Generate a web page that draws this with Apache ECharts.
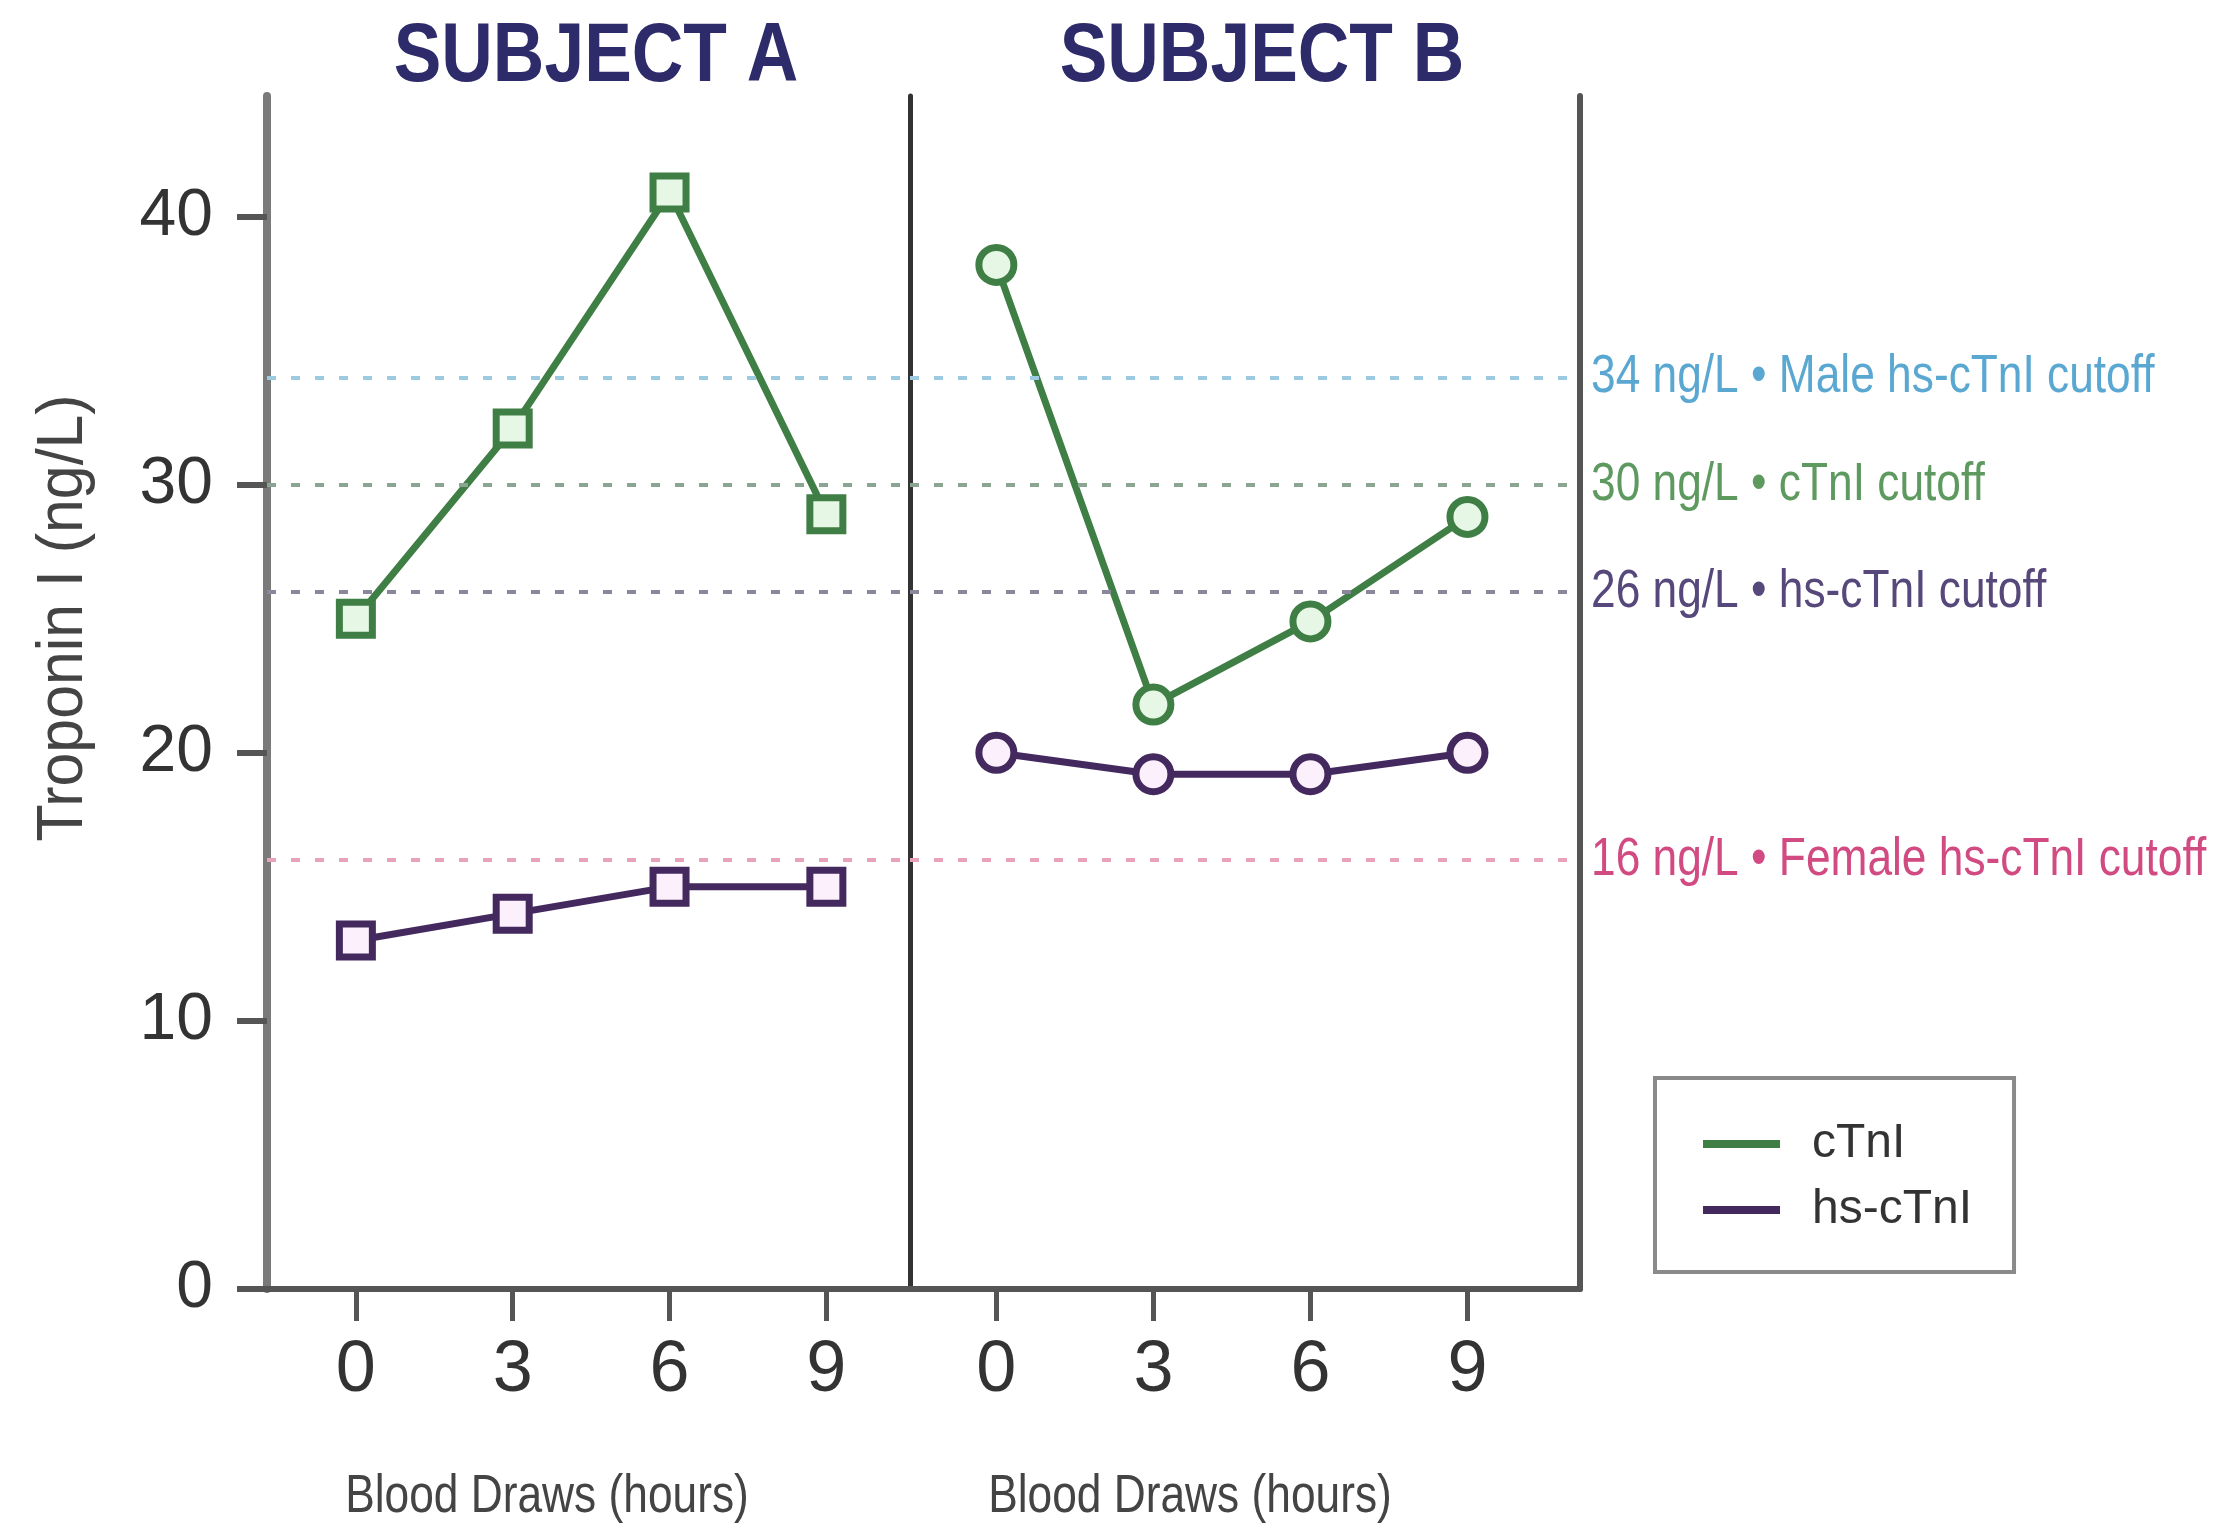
<!DOCTYPE html>
<html>
<head>
<meta charset="utf-8">
<title>Troponin I serial blood draws</title>
<script src="https://cdn.jsdelivr.net/npm/echarts@6/dist/echarts.min.js"></script>
<style>
  html, body { margin: 0; padding: 0; background: #ffffff; }
  #chart { width: 2229px; height: 1532px; }
</style>
</head>
<body>
<div id="chart"></div>
<script>
// Blood draw times (hours) and troponin I values (ng/L)
const hours = [0, 3, 6, 9];
const subjectA_cTnI = [25, 32.1, 40.9, 28.9];
const subjectA_hsTnI = [13, 14, 15, 15];
const subjectB_cTnI = [38.2, 21.8, 24.9, 28.8];
const subjectB_hsTnI = [20, 19.2, 19.2, 20];

const yTicks = [0, 10, 20, 30, 40];
const xTicks = [0, 3, 6, 9];

// Decision cutoffs drawn as dashed reference lines
const cutoffValues = [34, 30, 26, 16];
const cutoffLabels = [
  '34 ng/L \u2022 Male hs-cTnI cutoff',
  '30 ng/L \u2022 cTnI cutoff',
  '26 ng/L \u2022 hs-cTnI cutoff',
  '16 ng/L \u2022 Female hs-cTnI cutoff'
];
const cutoffLineColors = ['#9ccae0', '#8ba593', '#8a879a', '#e8a2bc'];
const cutoffTextColors = ['#5aa8d2', '#5e9a60', '#56487a', '#d24a82'];

const FONT = '"Liberation Sans", Arial, Helvetica, sans-serif';
const NARROW = 0.82;   // horizontal squeeze for a condensed look
const GREEN = '#3f7f45';
const GREEN_FILL = '#e7f7e5';
const PURPLE = '#44295f';
const PURPLE_FILL = '#fbf0fb';

const pairs = vals => hours.map((h, i) => [h, vals[i]]);

function cutoffLines() {
  return {
    silent: true,
    symbol: 'none',
    animation: false,
    label: { show: false },
    data: cutoffValues.map((v, i) => ({
      yAxis: v,
      lineStyle: { color: cutoffLineColors[i], type: [9, 15], width: 4 }
    }))
  };
}

function baseY(gridIndex) {
  return {
    type: 'value', gridIndex: gridIndex, min: 0, max: 44.5,
    splitLine: { show: false }
  };
}

function baseX(gridIndex, min, max) {
  return {
    type: 'value', gridIndex: gridIndex, min: min, max: max,
    splitLine: { show: false },
    axisLine: { onZero: false, lineStyle: { color: '#555555', width: 6 } },
    axisTick: { customValues: xTicks, length: 32, lineStyle: { color: '#555555', width: 5 } },
    axisLabel: { customValues: xTicks, margin: 46, color: '#333333', fontSize: 72, fontFamily: FONT }
  };
}

function lineSeries(name, xi, yi, vals, symbol, color, fill, withCutoffs) {
  const s = {
    name: name, type: 'line', xAxisIndex: xi, yAxisIndex: yi,
    data: pairs(vals),
    symbol: symbol, symbolSize: symbol === 'rect' ? 33 : 35,
    lineStyle: { color: color, width: 7 },
    itemStyle: { color: fill, borderColor: color, borderWidth: 7 },
    z: 3
  };
  if (withCutoffs) s.markLine = cutoffLines();
  return s;
}

function text(x, y, str, opts) {
  return Object.assign({
    type: 'text', x: x, y: y, silent: true, scaleX: NARROW,
    style: Object.assign({
      text: str, fontFamily: FONT, align: 'center', verticalAlign: 'middle'
    }, opts.style)
  }, opts.el || {});
}

const chart = echarts.init(document.getElementById('chart'), null, { renderer: 'canvas' });

chart.setOption({
  animation: false,
  backgroundColor: '#ffffff',
  grid: [
    { left: 267, top: 96, width: 643, height: 1193 },
    { left: 910, top: 96, width: 670, height: 1193 }
  ],
  xAxis: [baseX(0, -1.7, 10.6), baseX(1, -1.65, 11.15)],
  yAxis: [
    Object.assign(baseY(0), {
      axisLine: { show: true, onZero: false, lineStyle: { color: '#7a7a7a', width: 8 } },
      axisTick: { customValues: yTicks, length: 30, lineStyle: { color: '#555555', width: 6 } },
      axisLabel: { customValues: yTicks, margin: 54, color: '#333333', fontSize: 66, fontFamily: FONT }
    }),
    Object.assign(baseY(1), {
      axisLine: { show: true, onZero: false, lineStyle: { color: '#333333', width: 5 } },
      axisTick: { show: false },
      axisLabel: { show: false }
    }),
    Object.assign(baseY(1), {
      position: 'right',
      axisLine: { show: true, onZero: false, lineStyle: { color: '#555555', width: 6 } },
      axisTick: { show: false },
      axisLabel: { show: false }
    })
  ],
  legend: {
    orient: 'vertical',
    left: 1655,
    top: 1078,
    padding: [38, 42, 34, 48],
    itemGap: 10,
    itemWidth: 77,
    itemHeight: 8,
    backgroundColor: '#ffffff',
    borderColor: '#8a8a8a',
    borderWidth: 4,
    borderRadius: 0,
    selectedMode: false,
    textStyle: { color: '#333333', fontSize: 48, fontFamily: FONT, lineHeight: 56, padding: [0, 0, 0, 27] },
    data: [
      { name: 'cTnI', icon: 'rect', itemStyle: { color: GREEN, borderWidth: 0 } },
      { name: 'hs-cTnI', icon: 'rect', itemStyle: { color: PURPLE, borderWidth: 0 } }
    ]
  },
  series: [
    lineSeries('cTnI', 0, 0, subjectA_cTnI, 'rect', GREEN, GREEN_FILL, true),
    lineSeries('hs-cTnI', 0, 0, subjectA_hsTnI, 'rect', PURPLE, PURPLE_FILL, false),
    lineSeries('cTnI', 1, 1, subjectB_cTnI, 'circle', GREEN, GREEN_FILL, true),
    lineSeries('hs-cTnI', 1, 1, subjectB_hsTnI, 'circle', PURPLE, PURPLE_FILL, false)
  ]
});

// Cutoff captions sit just right of the right-hand frame, level with each dashed line
const cutoffCaptions = cutoffValues.map((v, i) => {
  const p = chart.convertToPixel({ xAxisIndex: 1, yAxisIndex: 1 }, [11.15, v]);
  return text(p[0] + 11, p[1], cutoffLabels[i], {
    style: { fill: cutoffTextColors[i], fontSize: 54, align: 'left' }
  });
});

chart.setOption({
  graphic: [
    text(596, 58, 'SUBJECT A', { style: { fill: '#2e2b6b', fontSize: 84, fontWeight: 'bold' }, el: { scaleX: 0.85 } }),
    text(1262, 58, 'SUBJECT B', { style: { fill: '#2e2b6b', fontSize: 84, fontWeight: 'bold' }, el: { scaleX: 0.85 } }),
    text(64, 618, 'Troponin I (ng/L)', { style: { fill: '#444444', fontSize: 64 }, el: { rotation: Math.PI / 2, scaleX: 0.95 } }),
    text(547, 1497, 'Blood Draws (hours)', { style: { fill: '#444444', fontSize: 54 } }),
    text(1190, 1497, 'Blood Draws (hours)', { style: { fill: '#444444', fontSize: 54 } })
  ].concat(cutoffCaptions)
});
</script>
</body>
</html>
